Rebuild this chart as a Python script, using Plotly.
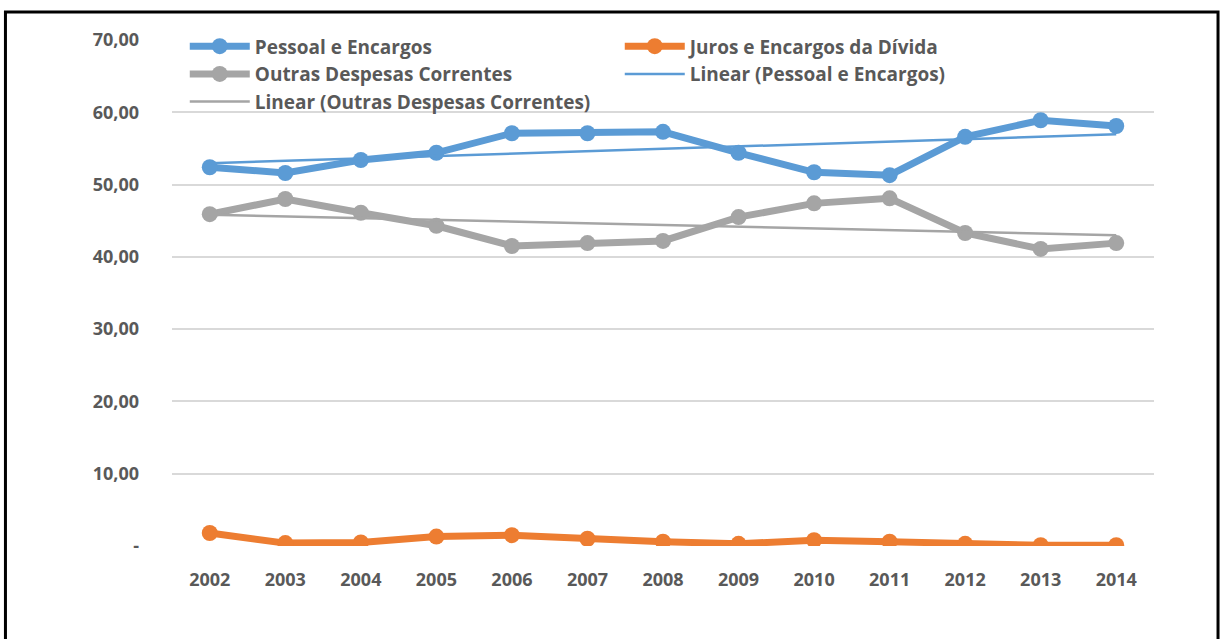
import numpy as np
import plotly.graph_objects as go

# anos e participação (%) de cada grupo de despesa
anos = ['2002', '2003', '2004', '2005', '2006', '2007', '2008',
        '2009', '2010', '2011', '2012', '2013', '2014']
pessoal = [52.4, 51.6, 53.4, 54.4, 57.1, 57.1, 57.3, 54.4, 51.7, 51.3, 56.6, 58.9, 58.1]
juros = [1.8, 0.4, 0.5, 1.3, 1.5, 1.0, 0.6, 0.3, 0.8, 0.6, 0.3, 0.1, 0.1]
outras = [45.9, 48.0, 46.1, 44.3, 41.5, 41.9, 42.2, 45.5, 47.4, 48.1, 43.3, 41.1, 41.9]

y_ticks = [0, 10, 20, 30, 40, 50, 60, 70]
y_labels = ['-', '10,00', '20,00', '30,00', '40,00', '50,00', '60,00', '70,00']

AZUL = '#5B9BD5'
LARANJA = '#ED7D31'
CINZA = '#A5A5A5'
FONTE = 'Open Sans'
TEXTO = '#595959'


def tendencia(valores):
    """ Linha de tendência linear (mínimos quadrados), como no Excel. """
    x = np.arange(len(valores))
    a, b = np.polyfit(x, valores, 1)
    return a * x + b


fig = go.Figure()

def serie(y, nome, cor):
    fig.add_trace(go.Scatter(x=anos, y=y, name=nome, mode='lines+markers',
                             line=dict(color=cor, width=7),
                             marker=dict(color=cor, size=16)))

serie(pessoal, 'Pessoal e Encargos', AZUL)
serie(juros, 'Juros e Encargos da Dívida', LARANJA)
serie(outras, 'Outras Despesas Correntes', CINZA)
fig.add_trace(go.Scatter(x=anos, y=tendencia(pessoal), name='Linear (Pessoal e Encargos)',
                         mode='lines', line=dict(color=AZUL, width=2.5)))
fig.add_trace(go.Scatter(x=anos, y=tendencia(outras), name='Linear (Outras Despesas Correntes)',
                         mode='lines', line=dict(color=CINZA, width=2.5)))

# moldura preta em volta do gráfico
fig.add_shape(type='rect', xref='paper', yref='paper',
              x0=-0.1696, x1=1.0652, y0=-0.21, y1=1.0553,
              line=dict(color='black', width=3), fillcolor='rgba(0,0,0,0)', layer='above')

fig.update_layout(
    width=1221, height=639,
    margin=dict(l=172, r=67, t=40, b=93),
    paper_bgcolor='white', plot_bgcolor='white',
    font=dict(family=FONTE, size=17, color=TEXTO),
    showlegend=True,
    legend=dict(orientation='h', x=0.013, y=1.025, xanchor='left', yanchor='top',
                entrywidth=360, entrywidthmode='pixels', itemwidth=60,
                bgcolor='rgba(0,0,0,0)',
                font=dict(family=FONTE, size=19, color=TEXTO, weight='bold')),
    xaxis=dict(type='category', range=[-0.5, 12.5], showgrid=False, showline=False,
               zeroline=False, ticks='', ticklabelstandoff=21,
               tickfont=dict(family=FONTE, size=18, color=TEXTO, weight='bold')),
    yaxis=dict(range=[0, 70], tickvals=y_ticks, ticktext=y_labels,
               showgrid=True, gridcolor='#D9D9D9', gridwidth=1.5,
               zeroline=False, showline=False, ticks='', ticklabelstandoff=32,
               tickfont=dict(family=FONTE, size=18, color=TEXTO, weight='bold')),
)

# sem a margem padrão do <body>, para a figura ocupar a janela inteira
fig.write_html('out.html', config={'displayModeBar': False},
               post_script="document.body.style.margin='0';")
